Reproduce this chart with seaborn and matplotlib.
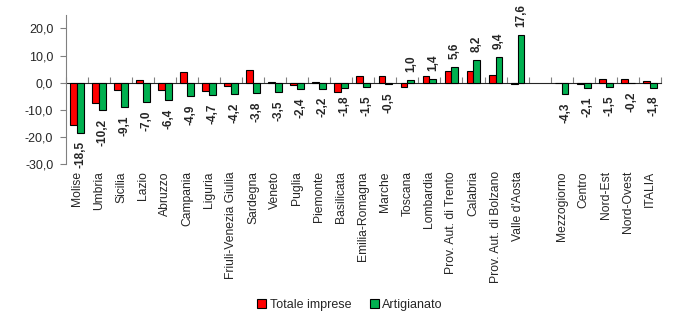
import matplotlib
matplotlib.use("Agg")
import matplotlib.pyplot as plt
import seaborn as sns
import pandas as pd
import numpy as np

categories = ["Molise", "Umbria", "Sicilia", "Lazio", "Abruzzo", "Campania", "Liguria",
              "Friuli-Venezia Giulia", "Sardegna", "Veneto", "Puglia", "Piemonte",
              "Basilicata", "Emilia-Romagna", "Marche", "Toscana", "Lombardia",
              "Prov. Aut. di Trento", "Calabria", "Prov. Aut. di Bolzano", "Valle d'Aosta",
              " ", "Mezzogiorno", "Centro", "Nord-Est", "Nord-Ovest", "ITALIA"]
totale_imprese = [-15.6, -7.6, -2.6, 1.1, -2.6, 3.8, -2.9, -1.1, 4.7, 0.3, -0.9, 0.1,
                  -3.3, 2.6, 2.6, -1.5, 2.6, 4.4, 4.2, 2.7, -0.3,
                  np.nan, -0.2, -0.3, 1.5, 1.2, 0.7]
artigianato = [-18.5, -10.2, -9.1, -7.0, -6.4, -4.9, -4.7, -4.2, -3.8, -3.5, -2.4, -2.2,
               -1.8, -1.5, -0.5, 1.0, 1.4, 5.6, 8.2, 9.4, 17.6,
               np.nan, -4.3, -2.1, -1.5, -0.2, -1.8]
series = ["Totale imprese", "Artigianato"]
colors = ["#FF0000", "#00B050"]
yticks = [-30, -20, -10, 0, 10, 20]

df = pd.DataFrame({
    "region": categories * 2,
    "series": [series[0]] * len(categories) + [series[1]] * len(categories),
    "value": totale_imprese + artigianato,
}).dropna()

sns.set_style("white")
plt.rcParams["font.family"] = ["Liberation Sans", "DejaVu Sans"]

fig = plt.figure(figsize=(7, 3.23), dpi=100)
ax = fig.add_axes([0.094, 0.492, 0.850, 0.462])

sns.barplot(data=df, x="region", y="value", hue="series", order=categories,
            hue_order=series, palette=colors, width=0.62, edgecolor="black",
            linewidth=0.8, ax=ax, errorbar=None, saturation=1)

fmt = lambda v: f"{v:.1f}".replace(".", ",")
ax.bar_label(ax.containers[1], fmt=fmt, rotation=90, padding=6,
             fontsize=8.5, fontweight="bold")

ax.set_ylim(-30, 25)
ax.set_xlim(-0.5, len(categories) - 0.5)
ax.set_yticks(yticks)
ax.set_yticklabels([f"{v:.1f}".replace(".", ",") for v in yticks], fontsize=9)
ax.tick_params(axis="y", direction="out", length=4, width=0.8, left=True, pad=5,
               color="#808080")
ax.tick_params(axis="x", length=0, pad=5)
ax.set_xticks(range(len(categories)))
ax.set_xticklabels(categories, rotation=90, fontsize=8.7)
ax.set_xlabel("")
ax.set_ylabel("")
for s in ["top", "right", "bottom"]:
    ax.spines[s].set_visible(False)
ax.spines["left"].set_color("#808080")
ax.spines["left"].set_linewidth(0.8)

# zero line with boundary ticks
sec = ax.secondary_xaxis(30 / 55)
sec.set_xticks(np.arange(-0.5, len(categories), 1.0))
sec.set_xticklabels([])
sec.tick_params(direction="out", length=4, width=0.8, color="#808080")
sec.spines["bottom"].set_color("#808080")
sec.spines["bottom"].set_linewidth(0.8)

ax.get_legend().remove()
handles = [plt.Rectangle((0, 0), 1, 1, facecolor=c, edgecolor="black", linewidth=0.8) for c in colors]
fig.legend(handles, series, loc="center", bbox_to_anchor=(0.5, 0.055), ncol=2,
           frameon=False, fontsize=9, handlelength=0.7, handleheight=0.7,
           handletextpad=0.3, columnspacing=1.5)

fig.savefig("out.png", dpi=100)
